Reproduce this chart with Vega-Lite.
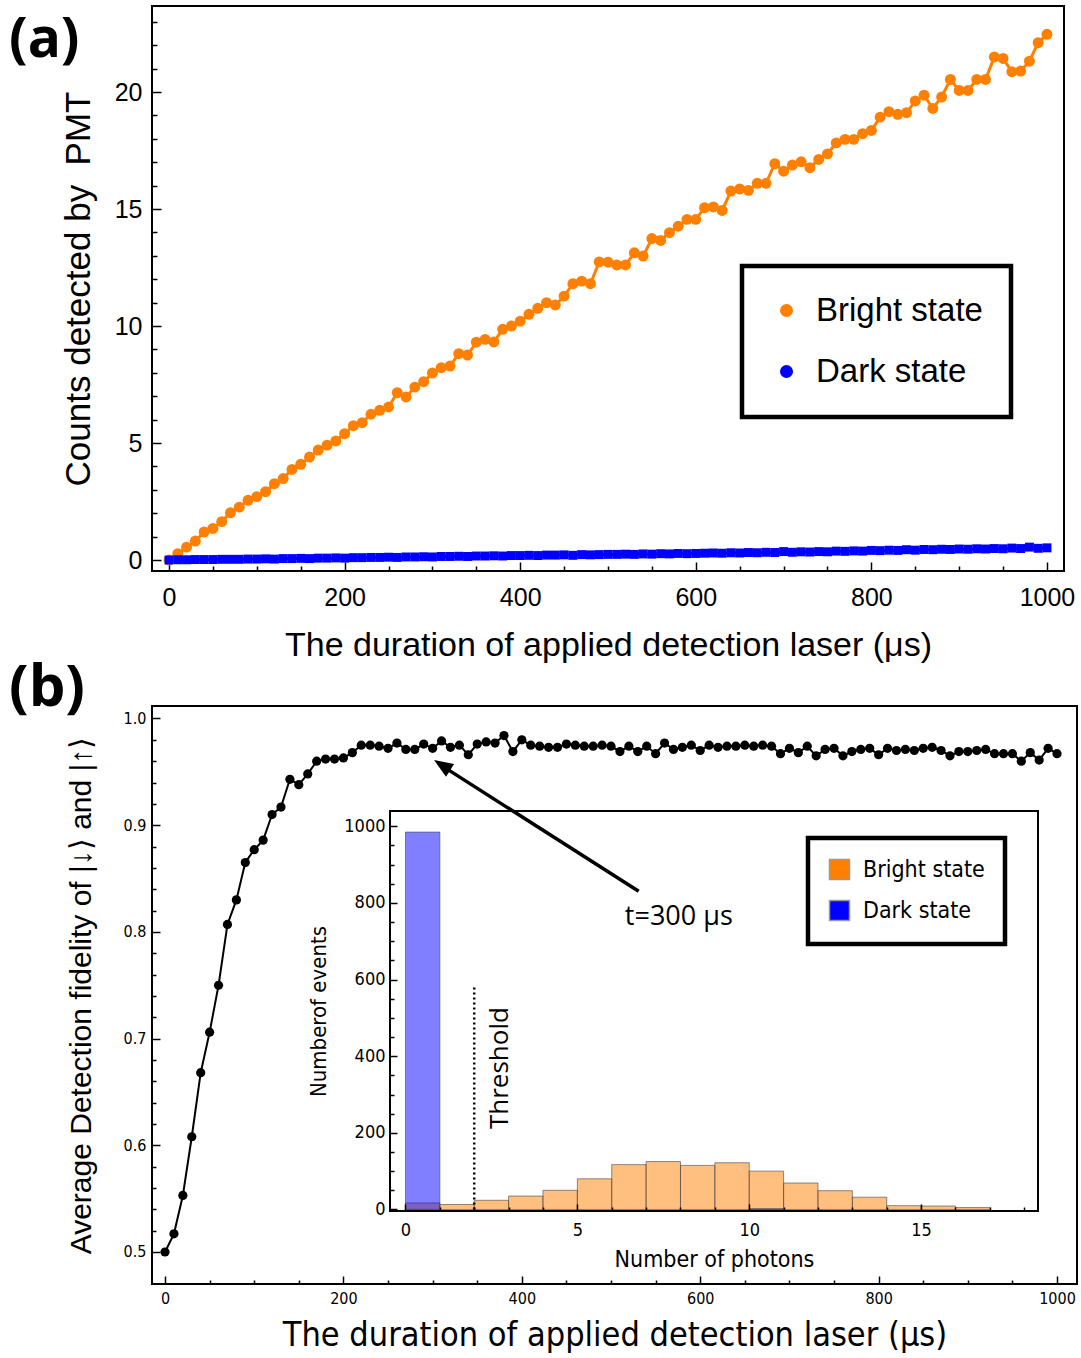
{
  "$schema": "https://vega.github.io/schema/vega-lite/v6.json",
  "padding": {"left": 8, "top": 5, "right": 0, "bottom": 0},
  "spacing": -4,
  "datasets": {
    "counts": [
      {"t": 0, "state": "Bright state", "counts": 0.00},
      {"t": 10, "state": "Bright state", "counts": 0.27},
      {"t": 20, "state": "Bright state", "counts": 0.55},
      {"t": 30, "state": "Bright state", "counts": 0.81},
      {"t": 40, "state": "Bright state", "counts": 1.20},
      {"t": 50, "state": "Bright state", "counts": 1.35},
      {"t": 60, "state": "Bright state", "counts": 1.64},
      {"t": 70, "state": "Bright state", "counts": 2.02},
      {"t": 80, "state": "Bright state", "counts": 2.26},
      {"t": 90, "state": "Bright state", "counts": 2.55},
      {"t": 100, "state": "Bright state", "counts": 2.71},
      {"t": 110, "state": "Bright state", "counts": 2.92},
      {"t": 120, "state": "Bright state", "counts": 3.26},
      {"t": 130, "state": "Bright state", "counts": 3.48},
      {"t": 140, "state": "Bright state", "counts": 3.87},
      {"t": 150, "state": "Bright state", "counts": 4.09},
      {"t": 160, "state": "Bright state", "counts": 4.40},
      {"t": 170, "state": "Bright state", "counts": 4.70},
      {"t": 180, "state": "Bright state", "counts": 4.91},
      {"t": 190, "state": "Bright state", "counts": 5.09},
      {"t": 200, "state": "Bright state", "counts": 5.40},
      {"t": 210, "state": "Bright state", "counts": 5.74},
      {"t": 220, "state": "Bright state", "counts": 5.87},
      {"t": 230, "state": "Bright state", "counts": 6.23},
      {"t": 240, "state": "Bright state", "counts": 6.40},
      {"t": 250, "state": "Bright state", "counts": 6.54},
      {"t": 260, "state": "Bright state", "counts": 7.15},
      {"t": 270, "state": "Bright state", "counts": 6.97},
      {"t": 280, "state": "Bright state", "counts": 7.39},
      {"t": 290, "state": "Bright state", "counts": 7.62},
      {"t": 300, "state": "Bright state", "counts": 7.99},
      {"t": 310, "state": "Bright state", "counts": 8.22},
      {"t": 320, "state": "Bright state", "counts": 8.29},
      {"t": 330, "state": "Bright state", "counts": 8.82},
      {"t": 340, "state": "Bright state", "counts": 8.76},
      {"t": 350, "state": "Bright state", "counts": 9.31},
      {"t": 360, "state": "Bright state", "counts": 9.43},
      {"t": 370, "state": "Bright state", "counts": 9.32},
      {"t": 380, "state": "Bright state", "counts": 9.86},
      {"t": 390, "state": "Bright state", "counts": 10.00},
      {"t": 400, "state": "Bright state", "counts": 10.21},
      {"t": 410, "state": "Bright state", "counts": 10.50},
      {"t": 420, "state": "Bright state", "counts": 10.76},
      {"t": 430, "state": "Bright state", "counts": 11.00},
      {"t": 440, "state": "Bright state", "counts": 10.90},
      {"t": 450, "state": "Bright state", "counts": 11.28},
      {"t": 460, "state": "Bright state", "counts": 11.81},
      {"t": 470, "state": "Bright state", "counts": 11.92},
      {"t": 480, "state": "Bright state", "counts": 11.81},
      {"t": 490, "state": "Bright state", "counts": 12.74},
      {"t": 500, "state": "Bright state", "counts": 12.73},
      {"t": 510, "state": "Bright state", "counts": 12.61},
      {"t": 520, "state": "Bright state", "counts": 12.61},
      {"t": 530, "state": "Bright state", "counts": 13.13},
      {"t": 540, "state": "Bright state", "counts": 12.99},
      {"t": 550, "state": "Bright state", "counts": 13.74},
      {"t": 560, "state": "Bright state", "counts": 13.66},
      {"t": 570, "state": "Bright state", "counts": 13.99},
      {"t": 580, "state": "Bright state", "counts": 14.27},
      {"t": 590, "state": "Bright state", "counts": 14.56},
      {"t": 600, "state": "Bright state", "counts": 14.56},
      {"t": 610, "state": "Bright state", "counts": 15.06},
      {"t": 620, "state": "Bright state", "counts": 15.09},
      {"t": 630, "state": "Bright state", "counts": 14.94},
      {"t": 640, "state": "Bright state", "counts": 15.77},
      {"t": 650, "state": "Bright state", "counts": 15.86},
      {"t": 660, "state": "Bright state", "counts": 15.80},
      {"t": 670, "state": "Bright state", "counts": 16.10},
      {"t": 680, "state": "Bright state", "counts": 16.10},
      {"t": 690, "state": "Bright state", "counts": 16.94},
      {"t": 700, "state": "Bright state", "counts": 16.62},
      {"t": 710, "state": "Bright state", "counts": 16.88},
      {"t": 720, "state": "Bright state", "counts": 17.02},
      {"t": 730, "state": "Bright state", "counts": 16.77},
      {"t": 740, "state": "Bright state", "counts": 17.12},
      {"t": 750, "state": "Bright state", "counts": 17.36},
      {"t": 760, "state": "Bright state", "counts": 17.83},
      {"t": 770, "state": "Bright state", "counts": 17.98},
      {"t": 780, "state": "Bright state", "counts": 17.98},
      {"t": 790, "state": "Bright state", "counts": 18.22},
      {"t": 800, "state": "Bright state", "counts": 18.36},
      {"t": 810, "state": "Bright state", "counts": 18.93},
      {"t": 820, "state": "Bright state", "counts": 19.16},
      {"t": 830, "state": "Bright state", "counts": 19.05},
      {"t": 840, "state": "Bright state", "counts": 19.12},
      {"t": 850, "state": "Bright state", "counts": 19.62},
      {"t": 860, "state": "Bright state", "counts": 19.87},
      {"t": 870, "state": "Bright state", "counts": 19.30},
      {"t": 880, "state": "Bright state", "counts": 19.79},
      {"t": 890, "state": "Bright state", "counts": 20.54},
      {"t": 900, "state": "Bright state", "counts": 20.07},
      {"t": 910, "state": "Bright state", "counts": 20.07},
      {"t": 920, "state": "Bright state", "counts": 20.54},
      {"t": 930, "state": "Bright state", "counts": 20.54},
      {"t": 940, "state": "Bright state", "counts": 21.50},
      {"t": 950, "state": "Bright state", "counts": 21.44},
      {"t": 960, "state": "Bright state", "counts": 20.87},
      {"t": 970, "state": "Bright state", "counts": 20.90},
      {"t": 980, "state": "Bright state", "counts": 21.32},
      {"t": 990, "state": "Bright state", "counts": 22.11},
      {"t": 1000, "state": "Bright state", "counts": 22.47},
      {"t": 0, "state": "Dark state", "counts": 0.00},
      {"t": 10, "state": "Dark state", "counts": 0.01},
      {"t": 20, "state": "Dark state", "counts": 0.01},
      {"t": 30, "state": "Dark state", "counts": 0.02},
      {"t": 40, "state": "Dark state", "counts": 0.02},
      {"t": 50, "state": "Dark state", "counts": 0.02},
      {"t": 60, "state": "Dark state", "counts": 0.03},
      {"t": 70, "state": "Dark state", "counts": 0.03},
      {"t": 80, "state": "Dark state", "counts": 0.03},
      {"t": 90, "state": "Dark state", "counts": 0.04},
      {"t": 100, "state": "Dark state", "counts": 0.04},
      {"t": 110, "state": "Dark state", "counts": 0.05},
      {"t": 120, "state": "Dark state", "counts": 0.04},
      {"t": 130, "state": "Dark state", "counts": 0.06},
      {"t": 140, "state": "Dark state", "counts": 0.06},
      {"t": 150, "state": "Dark state", "counts": 0.07},
      {"t": 160, "state": "Dark state", "counts": 0.06},
      {"t": 170, "state": "Dark state", "counts": 0.08},
      {"t": 180, "state": "Dark state", "counts": 0.08},
      {"t": 190, "state": "Dark state", "counts": 0.09},
      {"t": 200, "state": "Dark state", "counts": 0.08},
      {"t": 210, "state": "Dark state", "counts": 0.10},
      {"t": 220, "state": "Dark state", "counts": 0.10},
      {"t": 230, "state": "Dark state", "counts": 0.11},
      {"t": 240, "state": "Dark state", "counts": 0.11},
      {"t": 250, "state": "Dark state", "counts": 0.12},
      {"t": 260, "state": "Dark state", "counts": 0.11},
      {"t": 270, "state": "Dark state", "counts": 0.13},
      {"t": 280, "state": "Dark state", "counts": 0.13},
      {"t": 290, "state": "Dark state", "counts": 0.14},
      {"t": 300, "state": "Dark state", "counts": 0.13},
      {"t": 310, "state": "Dark state", "counts": 0.15},
      {"t": 320, "state": "Dark state", "counts": 0.15},
      {"t": 330, "state": "Dark state", "counts": 0.16},
      {"t": 340, "state": "Dark state", "counts": 0.15},
      {"t": 350, "state": "Dark state", "counts": 0.17},
      {"t": 360, "state": "Dark state", "counts": 0.17},
      {"t": 370, "state": "Dark state", "counts": 0.18},
      {"t": 380, "state": "Dark state", "counts": 0.17},
      {"t": 390, "state": "Dark state", "counts": 0.19},
      {"t": 400, "state": "Dark state", "counts": 0.19},
      {"t": 410, "state": "Dark state", "counts": 0.20},
      {"t": 420, "state": "Dark state", "counts": 0.19},
      {"t": 430, "state": "Dark state", "counts": 0.21},
      {"t": 440, "state": "Dark state", "counts": 0.21},
      {"t": 450, "state": "Dark state", "counts": 0.22},
      {"t": 460, "state": "Dark state", "counts": 0.20},
      {"t": 470, "state": "Dark state", "counts": 0.23},
      {"t": 480, "state": "Dark state", "counts": 0.22},
      {"t": 490, "state": "Dark state", "counts": 0.23},
      {"t": 500, "state": "Dark state", "counts": 0.24},
      {"t": 510, "state": "Dark state", "counts": 0.24},
      {"t": 520, "state": "Dark state", "counts": 0.25},
      {"t": 530, "state": "Dark state", "counts": 0.24},
      {"t": 540, "state": "Dark state", "counts": 0.26},
      {"t": 550, "state": "Dark state", "counts": 0.25},
      {"t": 560, "state": "Dark state", "counts": 0.27},
      {"t": 570, "state": "Dark state", "counts": 0.26},
      {"t": 580, "state": "Dark state", "counts": 0.28},
      {"t": 590, "state": "Dark state", "counts": 0.27},
      {"t": 600, "state": "Dark state", "counts": 0.28},
      {"t": 610, "state": "Dark state", "counts": 0.29},
      {"t": 620, "state": "Dark state", "counts": 0.30},
      {"t": 630, "state": "Dark state", "counts": 0.29},
      {"t": 640, "state": "Dark state", "counts": 0.31},
      {"t": 650, "state": "Dark state", "counts": 0.30},
      {"t": 660, "state": "Dark state", "counts": 0.32},
      {"t": 670, "state": "Dark state", "counts": 0.31},
      {"t": 680, "state": "Dark state", "counts": 0.33},
      {"t": 690, "state": "Dark state", "counts": 0.32},
      {"t": 700, "state": "Dark state", "counts": 0.36},
      {"t": 710, "state": "Dark state", "counts": 0.33},
      {"t": 720, "state": "Dark state", "counts": 0.35},
      {"t": 730, "state": "Dark state", "counts": 0.34},
      {"t": 740, "state": "Dark state", "counts": 0.36},
      {"t": 750, "state": "Dark state", "counts": 0.35},
      {"t": 760, "state": "Dark state", "counts": 0.38},
      {"t": 770, "state": "Dark state", "counts": 0.37},
      {"t": 780, "state": "Dark state", "counts": 0.39},
      {"t": 790, "state": "Dark state", "counts": 0.38},
      {"t": 800, "state": "Dark state", "counts": 0.41},
      {"t": 810, "state": "Dark state", "counts": 0.40},
      {"t": 820, "state": "Dark state", "counts": 0.42},
      {"t": 830, "state": "Dark state", "counts": 0.41},
      {"t": 840, "state": "Dark state", "counts": 0.44},
      {"t": 850, "state": "Dark state", "counts": 0.42},
      {"t": 860, "state": "Dark state", "counts": 0.45},
      {"t": 870, "state": "Dark state", "counts": 0.44},
      {"t": 880, "state": "Dark state", "counts": 0.46},
      {"t": 890, "state": "Dark state", "counts": 0.45},
      {"t": 900, "state": "Dark state", "counts": 0.47},
      {"t": 910, "state": "Dark state", "counts": 0.46},
      {"t": 920, "state": "Dark state", "counts": 0.48},
      {"t": 930, "state": "Dark state", "counts": 0.47},
      {"t": 940, "state": "Dark state", "counts": 0.49},
      {"t": 950, "state": "Dark state", "counts": 0.48},
      {"t": 960, "state": "Dark state", "counts": 0.51},
      {"t": 970, "state": "Dark state", "counts": 0.49},
      {"t": 980, "state": "Dark state", "counts": 0.55},
      {"t": 990, "state": "Dark state", "counts": 0.50},
      {"t": 1000, "state": "Dark state", "counts": 0.52}
    ],
    "fidelity": [
      {"t": 0, "fidelity": 0.500}, {"t": 10, "fidelity": 0.517}, {"t": 20, "fidelity": 0.553},
      {"t": 30, "fidelity": 0.608}, {"t": 40, "fidelity": 0.668}, {"t": 50, "fidelity": 0.706},
      {"t": 60, "fidelity": 0.750}, {"t": 70, "fidelity": 0.807}, {"t": 80, "fidelity": 0.830},
      {"t": 90, "fidelity": 0.865}, {"t": 100, "fidelity": 0.877}, {"t": 110, "fidelity": 0.886},
      {"t": 120, "fidelity": 0.910}, {"t": 130, "fidelity": 0.917}, {"t": 140, "fidelity": 0.943},
      {"t": 150, "fidelity": 0.938}, {"t": 160, "fidelity": 0.948}, {"t": 170, "fidelity": 0.960},
      {"t": 180, "fidelity": 0.962}, {"t": 190, "fidelity": 0.962}, {"t": 200, "fidelity": 0.963},
      {"t": 210, "fidelity": 0.968}, {"t": 220, "fidelity": 0.975}, {"t": 230, "fidelity": 0.975},
      {"t": 240, "fidelity": 0.974}, {"t": 250, "fidelity": 0.972}, {"t": 260, "fidelity": 0.977},
      {"t": 270, "fidelity": 0.971}, {"t": 280, "fidelity": 0.971}, {"t": 290, "fidelity": 0.976},
      {"t": 300, "fidelity": 0.972}, {"t": 310, "fidelity": 0.979}, {"t": 320, "fidelity": 0.973},
      {"t": 330, "fidelity": 0.975}, {"t": 340, "fidelity": 0.966}, {"t": 350, "fidelity": 0.976},
      {"t": 360, "fidelity": 0.978}, {"t": 370, "fidelity": 0.977}, {"t": 380, "fidelity": 0.984},
      {"t": 390, "fidelity": 0.969}, {"t": 400, "fidelity": 0.980}, {"t": 410, "fidelity": 0.975},
      {"t": 420, "fidelity": 0.974}, {"t": 430, "fidelity": 0.973}, {"t": 440, "fidelity": 0.973},
      {"t": 450, "fidelity": 0.976}, {"t": 460, "fidelity": 0.975}, {"t": 470, "fidelity": 0.974},
      {"t": 480, "fidelity": 0.974}, {"t": 490, "fidelity": 0.975}, {"t": 500, "fidelity": 0.974},
      {"t": 510, "fidelity": 0.969}, {"t": 520, "fidelity": 0.974}, {"t": 530, "fidelity": 0.969},
      {"t": 540, "fidelity": 0.974}, {"t": 550, "fidelity": 0.967}, {"t": 560, "fidelity": 0.977},
      {"t": 570, "fidelity": 0.971}, {"t": 580, "fidelity": 0.973}, {"t": 590, "fidelity": 0.975},
      {"t": 600, "fidelity": 0.970}, {"t": 610, "fidelity": 0.975}, {"t": 620, "fidelity": 0.973},
      {"t": 630, "fidelity": 0.974}, {"t": 640, "fidelity": 0.974}, {"t": 650, "fidelity": 0.975},
      {"t": 660, "fidelity": 0.974}, {"t": 670, "fidelity": 0.975}, {"t": 680, "fidelity": 0.974},
      {"t": 690, "fidelity": 0.967}, {"t": 700, "fidelity": 0.972}, {"t": 710, "fidelity": 0.968},
      {"t": 720, "fidelity": 0.974}, {"t": 730, "fidelity": 0.965}, {"t": 740, "fidelity": 0.971},
      {"t": 750, "fidelity": 0.972}, {"t": 760, "fidelity": 0.965}, {"t": 770, "fidelity": 0.969},
      {"t": 780, "fidelity": 0.971}, {"t": 790, "fidelity": 0.972}, {"t": 800, "fidelity": 0.966},
      {"t": 810, "fidelity": 0.972}, {"t": 820, "fidelity": 0.970}, {"t": 830, "fidelity": 0.971},
      {"t": 840, "fidelity": 0.970}, {"t": 850, "fidelity": 0.972}, {"t": 860, "fidelity": 0.973},
      {"t": 870, "fidelity": 0.970}, {"t": 880, "fidelity": 0.965}, {"t": 890, "fidelity": 0.969},
      {"t": 900, "fidelity": 0.969}, {"t": 910, "fidelity": 0.970}, {"t": 920, "fidelity": 0.971},
      {"t": 930, "fidelity": 0.967}, {"t": 940, "fidelity": 0.967}, {"t": 950, "fidelity": 0.967},
      {"t": 960, "fidelity": 0.960}, {"t": 970, "fidelity": 0.968}, {"t": 980, "fidelity": 0.961},
      {"t": 990, "fidelity": 0.972}, {"t": 1000, "fidelity": 0.967}
    ],
    "histogram": [
      {"photons_from": 0, "photons_to": 1, "state": "Bright state", "events": 17},
      {"photons_from": 1, "photons_to": 2, "state": "Bright state", "events": 13},
      {"photons_from": 2, "photons_to": 3, "state": "Bright state", "events": 24},
      {"photons_from": 3, "photons_to": 4, "state": "Bright state", "events": 35},
      {"photons_from": 4, "photons_to": 5, "state": "Bright state", "events": 50},
      {"photons_from": 5, "photons_to": 6, "state": "Bright state", "events": 80},
      {"photons_from": 6, "photons_to": 7, "state": "Bright state", "events": 117},
      {"photons_from": 7, "photons_to": 8, "state": "Bright state", "events": 125},
      {"photons_from": 8, "photons_to": 9, "state": "Bright state", "events": 115},
      {"photons_from": 9, "photons_to": 10, "state": "Bright state", "events": 122},
      {"photons_from": 10, "photons_to": 11, "state": "Bright state", "events": 100},
      {"photons_from": 11, "photons_to": 12, "state": "Bright state", "events": 69},
      {"photons_from": 12, "photons_to": 13, "state": "Bright state", "events": 49},
      {"photons_from": 13, "photons_to": 14, "state": "Bright state", "events": 32},
      {"photons_from": 14, "photons_to": 15, "state": "Bright state", "events": 10},
      {"photons_from": 15, "photons_to": 16, "state": "Bright state", "events": 9},
      {"photons_from": 16, "photons_to": 17, "state": "Bright state", "events": 5},
      {"photons_from": 0, "photons_to": 1, "state": "Dark state", "events": 985},
      {"photons_from": 10, "photons_to": 11, "state": "Dark state", "events": 2}
    ]
  },
  "vconcat": [
    {
      "width": 912,
      "height": 565,
      "title": {"text": "(a)", "anchor": "start", "frame": "group", "font": "Open Sans", "fontSize": 55, "fontWeight": "bold", "color": "black", "dx": -143, "dy": 63, "offset": 0},
      "layer": [
        {
          "data": {"name": "counts"},
          "encoding": {
            "x": {
              "field": "t", "type": "quantitative",
              "scale": {"domain": [-19.4, 1019.4], "nice": false, "zero": false},
              "axis": {
                "orient": "bottom",
                "title": "The duration of applied detection laser (μs)",
                "values": [0, 200, 400, 600, 800, 1000],
                "format": "d", "tickSize": -9,
                "labelFont": "Liberation Sans", "labelFontSize": 25, "labelPadding": 23,
                "titleFont": "Liberation Sans", "titleFontSize": 34, "titlePadding": 18
              }
            },
            "y": {
              "field": "counts", "type": "quantitative",
              "scale": {"domain": [-0.47, 23.68], "nice": false, "zero": false},
              "axis": {
                "orient": "left",
                "title": "Counts detected by\u00a0\u00a0PMT",
                "values": [0, 5, 10, 15, 20],
                "format": "d", "tickSize": -9,
                "labelFont": "Liberation Sans", "labelFontSize": 25, "labelPadding": 19,
                "titleFont": "Liberation Sans", "titleFontSize": 35, "titlePadding": 18
              }
            },
            "color": {
              "field": "state", "type": "nominal",
              "scale": {"domain": ["Bright state", "Dark state"], "range": ["#ff8000", "#0000ff"]},
              "legend": {
                "orient": "none", "legendX": 590, "legendY": 260, "title": null,
                "symbolType": "circle", "symbolSize": 170, "symbolStrokeWidth": 0, "symbolOpacity": 1,
                "labelFont": "Liberation Sans", "labelFontSize": 33, "labelColor": "black", "labelOffset": 13,
                "labelLimit": 400, "labelExpr": "datum.label + '\u00a0\u00a0\u00a0'",
                "rowPadding": 27, "padding": 28, "strokeColor": "black", "fillColor": "white"
              }
            }
          },
          "layer": [
            {"mark": {"type": "line", "strokeWidth": 3}},
            {
              "transform": [{"filter": "datum.state === 'Bright state'"}],
              "mark": {"type": "circle", "size": 120, "opacity": 1}
            },
            {
              "transform": [{"filter": "datum.state === 'Dark state'"}],
              "mark": {"type": "square", "size": 80, "opacity": 1}
            }
          ]
        },
        {
          "data": {"name": "counts"},
          "mark": {"type": "point", "opacity": 0},
          "encoding": {
            "x": {
              "field": "t", "type": "quantitative",
              "scale": {"domain": [-19.4, 1019.4], "nice": false, "zero": false},
              "axis": {"orient": "bottom", "title": null, "labels": false, "tickSize": -5,
                "values": [50, 100, 150, 250, 300, 350, 450, 500, 550, 650, 700, 750, 850, 900, 950]}
            },
            "y": {
              "field": "counts", "type": "quantitative",
              "scale": {"domain": [-0.47, 23.68], "nice": false, "zero": false},
              "axis": {"orient": "left", "title": null, "labels": false, "tickSize": -5,
                "values": [1, 2, 3, 4, 6, 7, 8, 9, 11, 12, 13, 14, 16, 17, 18, 19, 21, 22, 23]}
            }
          }
        }
      ],
      "resolve": {"axis": {"x": "independent", "y": "independent"}}
    },
    {
      "width": 925,
      "height": 578,
      "title": {"text": "(b)", "anchor": "start", "frame": "group", "font": "Open Sans", "fontSize": 58, "fontWeight": "bold", "color": "black", "dx": -143, "dy": 12, "offset": 0},
      "layer": [
        {
          "layer": [
            {
              "data": {"values": [{}]},
              "mark": {"type": "rect", "fill": "white", "stroke": "black", "strokeWidth": 2},
              "encoding": {
                "x": {"datum": -0.45, "axis": null},
                "x2": {"datum": 18.4},
                "y": {"datum": -4, "axis": null},
                "y2": {"datum": 1040}
              }
            },
            {
              "data": {"name": "histogram"},
              "mark": {"type": "rect", "fillOpacity": 0.5, "stroke": "#444444", "strokeOpacity": 0.6, "strokeWidth": 1},
              "encoding": {
                "x": {
                  "field": "photons_from", "type": "quantitative",
                  "scale": {"domain": [-0.45, 18.4], "range": [238, 886], "nice": false, "zero": false},
                  "axis": {
                    "orient": "bottom", "offset": -73, "zindex": 1,
                    "title": "Number of photons",
                    "values": [0, 5, 10, 15],
                    "format": "d", "tickSize": -7,
                    "labelFont": "DejaVu Sans Condensed", "labelFontSize": 18, "labelPadding": 17,
                    "titleFont": "DejaVu Sans Condensed", "titleFontSize": 23, "titlePadding": 9
                  }
                },
                "x2": {"field": "photons_to"},
                "y": {
                  "field": "events", "type": "quantitative",
                  "scale": {"domain": [-4, 1040], "range": [505, 105], "nice": false, "zero": false},
                  "axis": {
                    "orient": "left", "offset": -238, "zindex": 1,
                    "title": "Numberof events",
                    "values": [0, 200, 400, 600, 800, 1000],
                    "format": "d", "tickSize": -7,
                    "labelFont": "DejaVu Sans Condensed", "labelFontSize": 18, "labelPadding": 12,
                    "titleFont": "DejaVu Sans Condensed", "titleFontSize": 22, "titlePadding": 13
                  }
                },
                "y2": {"datum": 0},
                "fill": {
                  "field": "state", "type": "nominal",
                  "scale": {"domain": ["Bright state", "Dark state"], "range": ["#ff8000", "#0000ff"]},
                  "legend": {
                    "orient": "none", "legendX": 656, "legendY": 132, "title": null,
                    "symbolType": "square", "symbolSize": 400, "symbolOpacity": 1, "symbolStrokeColor": "#999999", "symbolStrokeWidth": 1.5,
                    "labelFont": "DejaVu Sans Condensed", "labelFontSize": 23, "labelColor": "black", "labelOffset": 12,
                    "labelLimit": 300,
                    "rowPadding": 14, "padding": 20, "strokeColor": "black", "fillColor": "white"
                  }
                }
              }
            },
            {
              "data": {"name": "histogram"},
              "mark": {"type": "point", "opacity": 0},
              "encoding": {
                "x": {
                  "field": "photons_from", "type": "quantitative",
                  "scale": {"domain": [-0.45, 18.4], "range": [238, 886], "nice": false, "zero": false},
                  "axis": {"orient": "bottom", "offset": -73, "zindex": 1, "title": null, "labels": false, "tickSize": -4,
                    "values": [1, 2, 3, 4, 6, 7, 8, 9, 11, 12, 13, 14, 16, 17, 18]}
                },
                "y": {
                  "field": "events", "type": "quantitative",
                  "scale": {"domain": [-4, 1040], "range": [505, 105], "nice": false, "zero": false},
                  "axis": {"orient": "left", "offset": -238, "zindex": 1, "title": null, "labels": false, "tickSize": -4,
                    "values": [50, 100, 150, 250, 300, 350, 450, 500, 550, 650, 700, 750, 850, 900, 950]}
                }
              }
            },
            {
              "data": {"values": [{}]},
              "mark": {"type": "rule", "color": "black", "strokeWidth": 2.5, "strokeDash": [2, 3]},
              "encoding": {
                "x": {"datum": 2, "axis": null},
                "y": {"datum": 0, "axis": null},
                "y2": {"datum": 586}
              }
            },
            {
              "data": {"values": [{}]},
              "mark": {"type": "text", "font": "Open Sans", "fontSize": 26, "color": "black", "angle": 270, "align": "center", "baseline": "middle"},
              "encoding": {
                "x": {"datum": 2.75, "axis": null},
                "y": {"datum": 369, "axis": null},
                "text": {"value": "Threshold"}
              }
            }
          ],
          "resolve": {"axis": {"x": "independent", "y": "independent"}}
        },
        {
          "layer": [
            {
              "data": {"name": "fidelity"},
              "encoding": {
                "x": {
                  "field": "t", "type": "quantitative",
                  "scale": {"domain": [-14.6, 1022.4], "nice": false, "zero": false},
                  "axis": {
                    "orient": "bottom",
                    "title": "The duration of applied detection laser (μs)",
                    "values": [0, 200, 400, 600, 800, 1000],
                    "format": "d", "tickSize": -8,
                    "labelFont": "DejaVu Sans Condensed", "labelFontSize": 16, "labelPadding": 14,
                    "titleFont": "DejaVu Sans Condensed", "titleFontSize": 34, "titlePadding": 12
                  }
                },
                "y": {
                  "field": "fidelity", "type": "quantitative",
                  "scale": {"domain": [0.47, 1.0117], "nice": false, "zero": false},
                  "axis": {
                    "orient": "left",
                    "title": "Average Detection fidelity of |↓⟩ and |↑⟩",
                    "values": [0.5, 0.6, 0.7, 0.8, 0.9, 1.0],
                    "format": ".1f", "tickSize": -8,
                    "labelFont": "DejaVu Sans Condensed", "labelFontSize": 16, "labelPadding": 14,
                    "titleFont": "Liberation Sans", "titleFontSize": 30, "titlePadding": 27
                  }
                }
              },
              "layer": [
                {"mark": {"type": "line", "color": "black", "strokeWidth": 2}},
                {"mark": {"type": "circle", "color": "black", "size": 85, "opacity": 1}}
              ]
            },
            {
              "data": {"name": "fidelity"},
              "mark": {"type": "point", "opacity": 0},
              "encoding": {
                "x": {
                  "field": "t", "type": "quantitative",
                  "scale": {"domain": [-14.6, 1022.4], "nice": false, "zero": false},
                  "axis": {"orient": "bottom", "title": null, "labels": false, "tickSize": -4,
                    "values": [50, 100, 150, 250, 300, 350, 450, 500, 550, 650, 700, 750, 850, 900, 950]}
                },
                "y": {
                  "field": "fidelity", "type": "quantitative",
                  "scale": {"domain": [0.47, 1.0117], "nice": false, "zero": false},
                  "axis": {"orient": "left", "title": null, "labels": false, "tickSize": -4,
                    "values": [0.52, 0.54, 0.56, 0.58, 0.62, 0.64, 0.66, 0.68, 0.72, 0.74, 0.76, 0.78, 0.82, 0.84, 0.86, 0.88, 0.92, 0.94, 0.96, 0.98]}
                }
              }
            },
            {
              "data": {"values": [{}]},
              "mark": {"type": "rule", "color": "black", "strokeWidth": 3.5},
              "encoding": {
                "x": {"datum": 531, "axis": null},
                "y": {"datum": 0.838, "axis": null},
                "x2": {"datum": 308},
                "y2": {"datum": 0.957}
              }
            },
            {
              "data": {"values": [{}]},
              "mark": {"type": "point", "shape": "M0,0L0.75,1.9L-0.75,1.9Z", "filled": true, "color": "black", "opacity": 1, "size": 400, "angle": -57.5},
              "encoding": {
                "x": {"datum": 301.6, "axis": null},
                "y": {"datum": 0.961, "axis": null}
              }
            },
            {
              "data": {"values": [{}]},
              "mark": {"type": "text", "font": "Open Sans", "fontSize": 27, "color": "black", "align": "center", "baseline": "middle"},
              "encoding": {
                "x": {"datum": 576, "axis": null},
                "y": {"datum": 0.814, "axis": null},
                "text": {"value": "t=300 μs"}
              }
            }
          ],
          "resolve": {"axis": {"x": "independent", "y": "independent"}}
        }
      ],
      "resolve": {"scale": {"x": "independent", "y": "independent"}}
    }
  ],
  "resolve": {"scale": {"color": "independent", "fill": "independent"}},
  "config": {
    "view": {"stroke": "black", "strokeWidth": 2},
    "font": "Liberation Sans",
    "legend": {"strokeWidth": 4.5},
    "axis": {
      "domain": false, "grid": false, "tickColor": "black", "tickWidth": 1.5,
      "labelColor": "black", "titleColor": "black", "titleFontWeight": "normal",
      "labelOverlap": false, "labelFlush": false
    }
  }
}
